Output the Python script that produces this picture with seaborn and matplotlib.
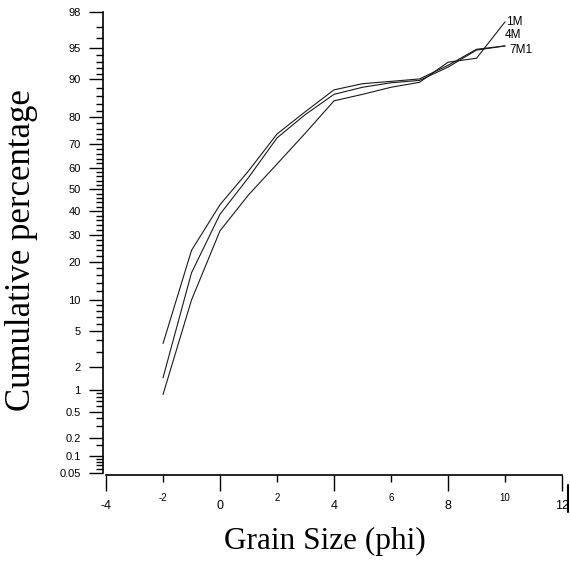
import numpy as np
import pandas as pd
import seaborn as sns
import matplotlib.pyplot as plt
from matplotlib.lines import Line2D
from statistics import NormalDist

# grain size classes (phi) and cumulative percentages
phi = [-2, -1, 0, 1, 2, 3, 4, 5, 6, 7, 8, 9, 10]
pct_1m = [0.87, 10.0, 31.6, 47.5, 61.6, 74.4, 84.8, 86.5, 88.2, 89.3, 93.0, 93.6, 97.4]
pct_4m = [3.7, 24.0, 43.0, 58.5, 74.0, 81.7, 87.6, 89.0, 89.5, 90.0, 92.5, 94.8, 95.2]
pct_7m1 = [1.45, 16.7, 38.7, 55.5, 72.5, 80.8, 86.5, 88.2, 89.2, 89.7, 92.2, 94.7, 95.2]
samples = ["1M", "4M", "7M1"]

y_major = [0.05, 0.1, 0.2, 0.5, 1, 2, 5, 10, 20, 30, 40, 50, 60, 70, 80, 90, 95, 98]
y_major_labels = ["0.05", "0.1", "0.2", "0.5", "1", "2", "5", "10", "20", "30", "40",
                  "50", "60", "70", "80", "90", "95", "98"]
y_minor = [0.06, 0.07, 0.08, 0.09, 0.15, 0.3, 0.4, 0.6, 0.7, 0.8, 0.9, 3, 4, 6, 7, 8, 9,
           12, 14, 16, 18, 22, 24, 26, 28, 32, 34, 36, 38, 42, 44, 46, 48, 52, 54, 56, 58,
           62, 64, 66, 68, 72, 74, 76, 78, 82, 84, 86, 88, 91, 92, 93, 94, 96, 97]
x_major = [-4, 0, 4, 8, 12]
x_minor = [-2, 2, 6, 10]

df = pd.DataFrame({
    "phi": phi * 3,
    "pct": pct_1m + pct_4m + pct_7m1,
    "sample": [s for s in samples for _ in phi],
})

# probability (normal) scale for the y axis
_nd = NormalDist()


def pct_to_z(p):
    p = np.clip(np.asarray(p, dtype=float), 1e-7, 100 - 1e-7)
    f = np.vectorize(lambda v: _nd.inv_cdf(v / 100.0) if np.isfinite(v) else np.nan, otypes=[float])
    return f(p)


def z_to_pct(z):
    z = np.asarray(z, dtype=float)
    f = np.vectorize(lambda v: _nd.cdf(v) * 100.0 if np.isfinite(v) else np.nan, otypes=[float])
    return f(z)


sns.set_style("white")
plt.rcParams['font.family'] = ['Liberation Sans', 'DejaVu Sans']
plt.rcParams['text.color'] = 'black'
plt.rcParams['axes.labelcolor'] = 'black'
plt.rcParams['xtick.color'] = 'black'
plt.rcParams['ytick.color'] = 'black'

fig, ax = plt.subplots(figsize=(5.7, 5.62), dpi=100)
fig.subplots_adjust(left=0.186, right=0.986, bottom=0.158, top=0.978)

sns.lineplot(data=df, x="phi", y="pct", units="sample", estimator=None, sort=False,
             color="#1a1a1a", lw=0.8, ax=ax)

ax.set_yscale("function", functions=(pct_to_z, z_to_pct))
ax.set_xlim(-4, 12)
ax.set_ylim(0.05, 98)

ax.set_yticks(y_major, labels=y_major_labels)
ax.set_yticks(y_minor, minor=True)
ax.set_xticks(x_major, labels=[str(v) for v in x_major])
ax.set_xticks(x_minor, labels=[str(v) for v in x_minor], minor=True)

ax.tick_params(which="both", left=True, bottom=True)
ax.tick_params(axis="y", which="major", direction="out", length=10, width=1, pad=6, labelsize=8, color="black")
ax.tick_params(axis="y", which="minor", direction="out", length=5, width=1, color="black")
ax.tick_params(axis="x", which="major", direction="out", length=11.5, width=1, pad=7, labelsize=9, color="black")
ax.tick_params(axis="x", which="minor", direction="out", length=5, width=1, pad=8, labelsize=7, color="black")

sns.despine(ax=ax)
for side in ["left", "bottom"]:
    ax.spines[side].set_linewidth(1.2)
    ax.spines[side].set_color("black")
ax.spines["left"].set_position(("outward", 2.2))
ax.spines["bottom"].set_position(("outward", 1))

# sample labels at the end of each curve
label_offsets = {"1M": (1, 0), "4M": (0, 8), "7M1": (3, -3)}
for name, vals in zip(samples, [pct_1m, pct_4m, pct_7m1]):
    dx, dy = label_offsets[name]
    ax.annotate(name, xy=(phi[-1], vals[-1]), xytext=(dx, dy), textcoords="offset points",
                ha="left", va="center", fontsize=8.5)

ax.set_xlabel("Grain Size (phi)", family=["Liberation Serif"], fontsize=22.5)
ax.set_ylabel("Cumulative percentage", family=["Liberation Serif"], fontsize=25)
ax.xaxis.set_label_coords(0.48, -0.117)
ax.yaxis.set_label_coords(-0.15, 0.484)

# stray frame edge at the right of the x axis
fig.add_artist(Line2D([568 / 570, 568 / 570], [1 - 485 / 562, 1 - 512 / 562], color="black", lw=1.5))

fig.savefig("out.png", dpi=100)
